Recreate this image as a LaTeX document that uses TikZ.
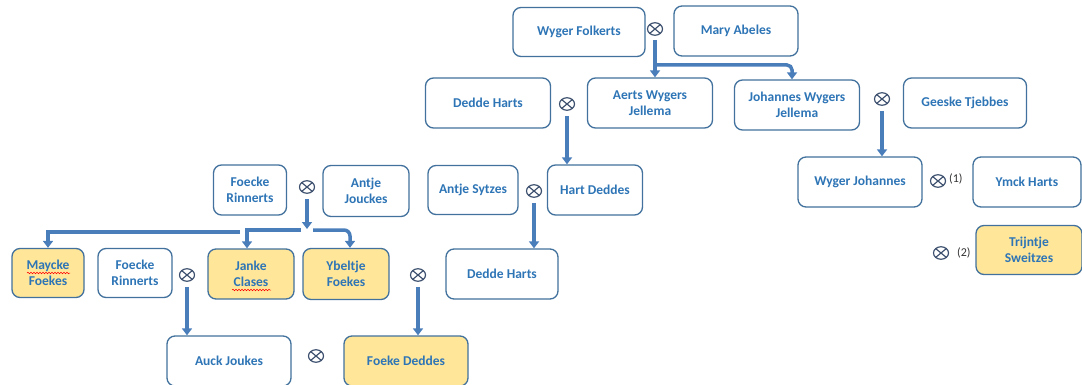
\documentclass[tikz,border=0pt]{standalone}
\usepackage{fontspec}
\setmainfont{Carlito}[BoldFont={Carlito Bold}]
\usetikzlibrary{arrows.meta,shapes.geometric,decorations.pathmorphing}
\definecolor{txtblue}{RGB}{46,117,182}
\definecolor{edgeblue}{RGB}{65,113,156}
\definecolor{arrowblue}{RGB}{74,126,187}
\definecolor{famyellow}{RGB}{255,230,153}
\definecolor{symgray}{RGB}{60,80,110}
\definecolor{notegray}{RGB}{50,50,50}
\begin{document}
\begin{tikzpicture}[x=1pt,y=-1pt,
  person/.style={draw=edgeblue, line width=1.3pt, rounded corners=8pt, fill=white,
    text=txtblue, font=\fontsize{13.5}{16.5}\selectfont\bfseries, align=center, inner sep=0pt},
  kin/.style={person, fill=famyellow},
  wed/.style={ellipse, draw=symgray, line width=1.2pt, minimum width=15pt, minimum height=12.5pt,
    inner sep=0pt, path picture={\draw[symgray, line width=1.2pt]
      (path picture bounding box.north west) -- (path picture bounding box.south east)
      (path picture bounding box.north east) -- (path picture bounding box.south west);}},
  note/.style={text=notegray, font=\fontsize{12}{13}\selectfont, inner sep=0pt},
  conn/.style={draw=arrowblue, line width=3.5pt, -{Triangle[width=10pt,length=7pt]}},
  spell/.style={draw=red, line width=0.5pt, decorate,
    decoration={snake, amplitude=0.8pt, segment length=3pt}}
]
\useasboundingbox (0,0) rectangle (1082,385);

% top generation
\node[person, minimum width=132pt, minimum height=49pt] (wf) at (579,32) {Wyger Folkerts};
\node[wed] (m1) at (655,29) {};
\node[person, minimum width=124pt, minimum height=50pt] (ma) at (736,31) {Mary Abeles};

% second row
\node[person, minimum width=125pt, minimum height=50pt] (dh1) at (488,103) {Dedde Harts};
\node[wed] (m2) at (567,104) {};
\node[person, minimum width=125pt, minimum height=50pt] (aw) at (650,103) {Aerts Wygers\\Jellema};
\node[person, minimum width=125pt, minimum height=50pt] (jw) at (797,105) {Johannes Wygers\\Jellema};
\node[wed] (m3) at (882,99) {};
\node[person, minimum width=123pt, minimum height=50pt] (gt) at (965,103) {Geeske Tjebbes};

% third row
\node[person, minimum width=90pt, minimum height=49pt] (as) at (473,190) {Antje Sytzes};
\node[wed] (m4) at (534,191) {};
\node[person, minimum width=95pt, minimum height=50pt] (hd) at (595,190) {Hart Deddes};
\node[person, minimum width=124pt, minimum height=50pt] (wj) at (860,182) {Wyger Johannes};
\node[wed] (m5) at (938,181) {};
\node[note, anchor=west] (n1) at (949,179) {(1)};
\node[person, minimum width=108pt, minimum height=50pt] (yh) at (1027,182) {Ymck Harts};
\node[wed] (m6) at (941,253) {};
\node[note, anchor=west] (n2) at (957,253) {(2)};
\node[kin, minimum width=106pt, minimum height=49pt] (ts) at (1029,250) {Trijntje\\Sweitzes};

\node[person, minimum width=73pt, minimum height=50pt] (fr1) at (250,190) {Foecke\\Rinnerts};
\node[wed] (m7) at (307,187) {};
\node[person, minimum width=86pt, minimum height=51pt] (aj) at (366,191) {Antje\\Jouckes};

% fourth row
\node[kin, minimum width=72pt, minimum height=49pt] (mf) at (48,273) {Maycke\\Foekes};
\node[person, minimum width=74pt, minimum height=49pt] (fr2) at (135,273) {Foecke\\Rinnerts};
\node[wed] (m8) at (187,275) {};
\node[kin, minimum width=86pt, minimum height=50pt] (jc) at (251,274) {Janke\\Clases};
\node[kin, minimum width=86pt, minimum height=51pt] (yf) at (346,274) {Ybeltje\\Foekes};
\node[wed] (m9) at (418,275) {};
\node[person, minimum width=112pt, minimum height=50pt] (dh2) at (502,274) {Dedde Harts};

% bottom row
\node[person, minimum width=124pt, minimum height=50pt] (ak) at (229,361) {Auck Joukes};
\node[wed] (m10) at (316,356) {};
\node[kin, minimum width=124pt, minimum height=50pt] (fd) at (406,361) {Foeke Deddes};

% spelling marks
\draw[spell] (27,273) -- (70,273);
\draw[spell] (232,290) -- (271,290);

% connectors
\draw[conn, shorten <=4pt] (m1.south) -- (m1.south |- aw.north);
\coordinate (b1) at (655,65);
\draw[conn, rounded corners=5pt] (b1) -| ([xshift=-5pt]jw.north);
\draw[conn, shorten <=5pt] (m2.south) -- (m2.south |- hd.north);
\draw[conn, shorten <=5pt] (m3.south) -- (m3.south |- wj.north);
\draw[conn, shorten <=5pt] (m4.south) -- (m4.south |- dh2.north);

\coordinate (t7) at (307,229);
\draw[conn, shorten <=5pt] (m7.south) -- (t7);
\coordinate (bl) at (240,232);
\coordinate (bm) at (301,230);
\coordinate (br) at (313,230);
\draw[conn] (bl) -| (mf.north);
\draw[conn] (bm) -| ([xshift=-4pt]jc.north);
\draw[conn, rounded corners=6pt] (br) -| ([xshift=4pt]yf.north);

\draw[conn, shorten <=5pt] (m8.south) -- (m8.south |- ak.north);
\draw[conn, shorten <=5pt] (m9.south) -- (m9.south |- fd.north);
\end{tikzpicture}
\end{document}
